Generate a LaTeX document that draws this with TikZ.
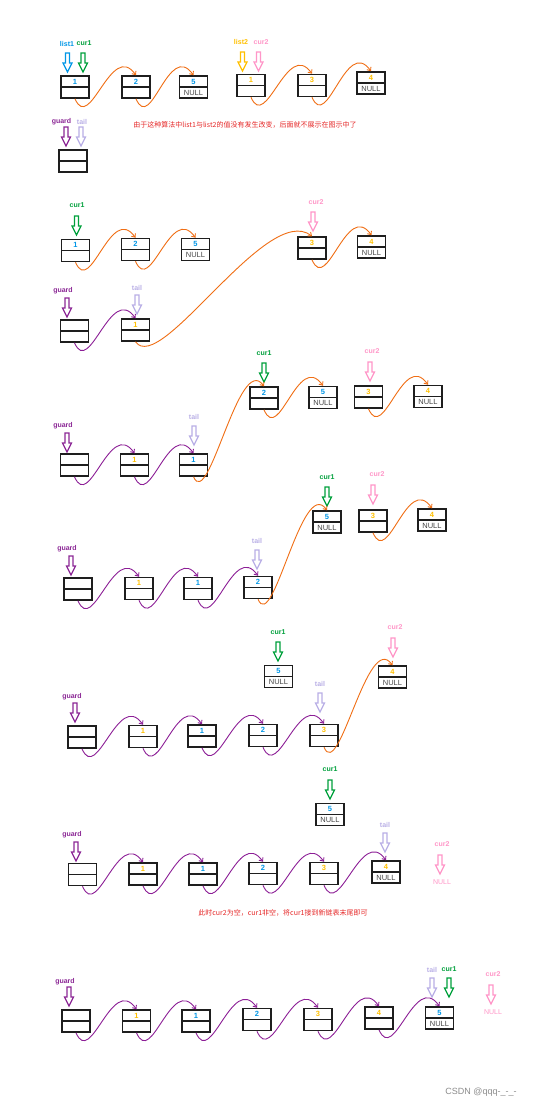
\documentclass[tikz,border=0pt]{standalone}
\usepackage{fontspec}
\setmainfont{Liberation Sans}
\newfontfamily\cjk{Noto Sans CJK SC}
\usetikzlibrary{arrows.meta}
\definecolor{cblue}{RGB}{0,150,230}
\definecolor{cgreen}{RGB}{0,160,60}
\definecolor{cgold}{RGB}{255,192,0}
\definecolor{cpink}{RGB}{255,150,200}
\definecolor{cpurple}{RGB}{140,40,150}
\definecolor{clav}{RGB}{185,175,230}
\definecolor{corange}{RGB}{240,110,20}
\definecolor{clink}{RGB}{140,30,150}
\definecolor{cred}{RGB}{230,40,40}
\definecolor{cnull}{RGB}{70,70,70}
\definecolor{cbox}{RGB}{30,30,30}
\tikzset{
  lnode/.style={draw=cbox, line width=1.5pt, minimum width=28pt, minimum height=22pt, inner sep=0pt,
    path picture={\draw[line width=1.5pt, cbox] (path picture bounding box.west) -- (path picture bounding box.east);}},
  val/.style={font=\fontsize{7.5}{8}\selectfont\bfseries, inner sep=0pt},
  nul/.style={font=\fontsize{7.5}{8}\selectfont, text=cnull, inner sep=0pt},
  lab/.style={font=\fontsize{7}{8}\selectfont\bfseries, inner sep=0pt},
  note/.style={font=\cjk\fontsize{7}{8}\selectfont, text=cred, inner sep=0pt},
  olink/.style={draw=corange, line width=0.9pt, -{Straight Barb[length=3pt,width=5pt]}},
  plink/.style={draw=clink, line width=0.9pt, -{Straight Barb[length=3pt,width=5pt]}},
  ptr/.pic={\draw[line width=1.2pt, line join=miter] (-2,0) -- (2,0) -- (2,10) -- (4.5,10) -- (0,19) -- (-4.5,10) -- (-2,10) -- cycle;}
}
\newcommand\LLbox[5]{\node[lnode] (#1) at (#2,#3) {};
  \node[val,text=#4] (#1-v) at ([yshift=5.5pt]#1.center) {#5};}
\newcommand\LLempty[3]{\node[lnode] (#1) at (#2,#3) {};}
\newcommand\LLnull[1]{\node[nul] (#1-n) at ([yshift=-5.5pt]#1.center) {NULL};}
\newcommand\PTR[7]{\pic[color=#4] at (#2,#3) {ptr};
  \node[lab,text=#4] (#1) at (#5,#6) {#7};}
\newcommand\LK[3]{\draw[#1] (#2.south) .. controls +(15,35) and +(-25,-35) .. (#3.north);}
\newcommand\LKL[3]{\draw[#1] (#2.south) .. controls +(25,35) and +(-45,-35) .. (#3.north);}
\begin{document}
\begin{tikzpicture}[x=1pt,y=-1pt]
\useasboundingbox[fill=white] (0,0) rectangle (543,1108);

% ---- Row 1
\PTR{l1-list1}{67.5}{53}{cblue}{67}{44}{list1}
\PTR{l1-cur1}{83}{53}{cgreen}{84}{43}{cur1}
\PTR{l1-list2}{242.5}{52}{cgold}{241}{42}{list2}
\PTR{l1-cur2}{258.5}{52}{cpink}{261}{42}{cur2}
\LLbox{r1a}{75}{87}{cblue}{1}
\LLbox{r1b}{136}{87}{cblue}{2}
\LLbox{r1c}{193.5}{87}{cblue}{5}\LLnull{r1c}
\LLbox{r1d}{251}{85.5}{cgold}{1}
\LLbox{r1e}{312}{85.5}{cgold}{3}
\LLbox{r1f}{371}{83}{cgold}{4}\LLnull{r1f}
\LK{olink}{r1a}{r1b}
\LK{olink}{r1b}{r1c}
\LK{olink}{r1d}{r1e}
\LK{olink}{r1e}{r1f}

% ---- Row 2
\PTR{l2-guard}{66}{127}{cpurple}{61.5}{121.5}{guard}
\PTR{l2-tail}{81}{127}{clav}{82}{121.5}{tail}
\LLempty{r2a}{73}{161}
\node[note] (note1) at (245,125) {由于这种算法中list1与list2的值没有发生改变，后面就不展示在图示中了};

% ---- Row 3
\PTR{l3-cur1}{76.5}{216}{cgreen}{77}{205}{cur1}
\PTR{l3-cur2}{313}{212}{cpink}{316}{202}{cur2}
\PTR{l3-guard}{67}{298}{cpurple}{63}{291}{guard}
\PTR{l3-tail}{137}{295}{clav}{137}{288}{tail}
\LLbox{r3a}{75.5}{250.5}{cblue}{1}
\LLbox{r3b}{135.5}{249.5}{cblue}{2}
\LLbox{r3c}{195.5}{249.5}{cblue}{5}\LLnull{r3c}
\LLbox{r3d}{312}{248}{cgold}{3}
\LLbox{r3e}{371.5}{247}{cgold}{4}\LLnull{r3e}
\LLempty{r3f}{74.5}{331}
\LLbox{r3g}{135.5}{330}{cgold}{1}
\LK{olink}{r3a}{r3b}
\LK{olink}{r3b}{r3c}
\LK{olink}{r3d}{r3e}
\LK{plink}{r3f}{r3g}
\LKL{olink}{r3g}{r3d}

% ---- Row 4
\PTR{l4-cur1}{264}{363}{cgreen}{264}{353}{cur1}
\PTR{l4-cur2}{370}{362}{cpink}{372}{351}{cur2}
\PTR{l4-guard}{67}{433}{cpurple}{63}{426}{guard}
\PTR{l4-tail}{194}{426}{clav}{194}{417}{tail}
\LLbox{r4a}{264}{398}{cblue}{2}
\LLbox{r4b}{323}{397.5}{cblue}{5}\LLnull{r4b}
\LLbox{r4c}{368.5}{397}{cgold}{3}
\LLbox{r4d}{428}{396.5}{cgold}{4}\LLnull{r4d}
\LLempty{r4e}{74.5}{465}
\LLbox{r4f}{134.5}{465}{cgold}{1}
\LLbox{r4g}{193.5}{465}{cblue}{1}
\LK{olink}{r4a}{r4b}
\LK{olink}{r4c}{r4d}
\LK{plink}{r4e}{r4f}
\LK{plink}{r4f}{r4g}
\LK{olink}{r4g}{r4a}

% ---- Row 5
\PTR{l5-cur1}{327}{487}{cgreen}{327}{477}{cur1}
\PTR{l5-cur2}{373}{485}{cpink}{377}{474}{cur2}
\PTR{l5-guard}{71}{556}{cpurple}{67}{549}{guard}
\PTR{l5-tail}{257}{550}{clav}{257}{541}{tail}
\LLbox{r5a}{327}{522}{cblue}{5}\LLnull{r5a}
\LLbox{r5b}{373}{521}{cgold}{3}
\LLbox{r5c}{432}{520}{cgold}{4}\LLnull{r5c}
\LLempty{r5d}{78}{589}
\LLbox{r5e}{139}{588.5}{cgold}{1}
\LLbox{r5f}{198}{588.5}{cblue}{1}
\LLbox{r5g}{258}{587.5}{cblue}{2}
\LK{olink}{r5b}{r5c}
\LK{plink}{r5d}{r5e}
\LK{plink}{r5e}{r5f}
\LK{plink}{r5f}{r5g}
\LK{olink}{r5g}{r5a}

% ---- Row 6
\PTR{l6-cur1}{278}{642}{cgreen}{278}{632}{cur1}
\PTR{l6-cur2}{393}{638}{cpink}{395}{627}{cur2}
\PTR{l6-guard}{75}{703}{cpurple}{72}{697}{guard}
\PTR{l6-tail}{320}{693}{clav}{320}{684}{tail}
\LLbox{r6a}{278.5}{676.5}{cblue}{5}\LLnull{r6a}
\LLbox{r6b}{392.5}{677}{cgold}{4}\LLnull{r6b}
\LLempty{r6c}{82}{737}
\LLbox{r6d}{143}{736.5}{cgold}{1}
\LLbox{r6e}{202}{736}{cblue}{1}
\LLbox{r6f}{263}{735.5}{cblue}{2}
\LLbox{r6g}{324}{735.5}{cgold}{3}
\LK{plink}{r6c}{r6d}
\LK{plink}{r6d}{r6e}
\LK{plink}{r6e}{r6f}
\LK{plink}{r6f}{r6g}
\LK{olink}{r6g}{r6b}

% ---- Row 7
\PTR{l7-cur1}{330}{780}{cgreen}{330}{769}{cur1}
\PTR{l7-tail}{385}{833}{clav}{385}{825}{tail}
\PTR{l7-cur2}{440}{855}{cpink}{442}{844}{cur2}
\node[font=\fontsize{7}{8}\selectfont, text=cpink, inner sep=0pt] (l7-null) at (442,882) {NULL};
\PTR{l7-guard}{76}{842}{cpurple}{72}{835}{guard}
\LLbox{r7a}{330}{814.5}{cblue}{5}\LLnull{r7a}
\LLempty{r7b}{82.5}{874.5}
\LLbox{r7c}{143}{874}{cgold}{1}
\LLbox{r7d}{203}{874}{cblue}{1}
\LLbox{r7e}{263}{873.5}{cblue}{2}
\LLbox{r7f}{324}{873.5}{cgold}{3}
\LLbox{r7g}{386}{872}{cgold}{4}\LLnull{r7g}
\LK{plink}{r7b}{r7c}
\LK{plink}{r7c}{r7d}
\LK{plink}{r7d}{r7e}
\LK{plink}{r7e}{r7f}
\LK{plink}{r7f}{r7g}
\node[note] (note2) at (283,913) {此时cur2为空，cur1非空，将cur1接到新链表末尾即可};

% ---- Row 8
\PTR{l8-guard}{69}{987}{cpurple}{65}{982}{guard}
\PTR{l8-tail}{432}{978}{clav}{432}{970}{tail}
\PTR{l8-cur1}{449}{978}{cgreen}{449}{969}{cur1}
\PTR{l8-cur2}{491}{985}{cpink}{493}{974}{cur2}
\node[font=\fontsize{7}{8}\selectfont, text=cpink, inner sep=0pt] (l8-null) at (493,1012) {NULL};
\LLempty{r8a}{76}{1021}
\LLbox{r8b}{136.5}{1021}{cgold}{1}
\LLbox{r8c}{196}{1021}{cblue}{1}
\LLbox{r8d}{257}{1019.5}{cblue}{2}
\LLbox{r8e}{318}{1019.5}{cgold}{3}
\LLbox{r8f}{379}{1018}{cgold}{4}
\LLbox{r8g}{439.5}{1018}{cblue}{5}\LLnull{r8g}
\LK{plink}{r8a}{r8b}
\LK{plink}{r8b}{r8c}
\LK{plink}{r8c}{r8d}
\LK{plink}{r8d}{r8e}
\LK{plink}{r8e}{r8f}
\LK{plink}{r8f}{r8g}

\node[font=\fontsize{9}{10}\selectfont, text=black!45, inner sep=0pt] (wm) at (481,1092) {CSDN @qqq-\_-\_-};
\end{tikzpicture}
\end{document}
